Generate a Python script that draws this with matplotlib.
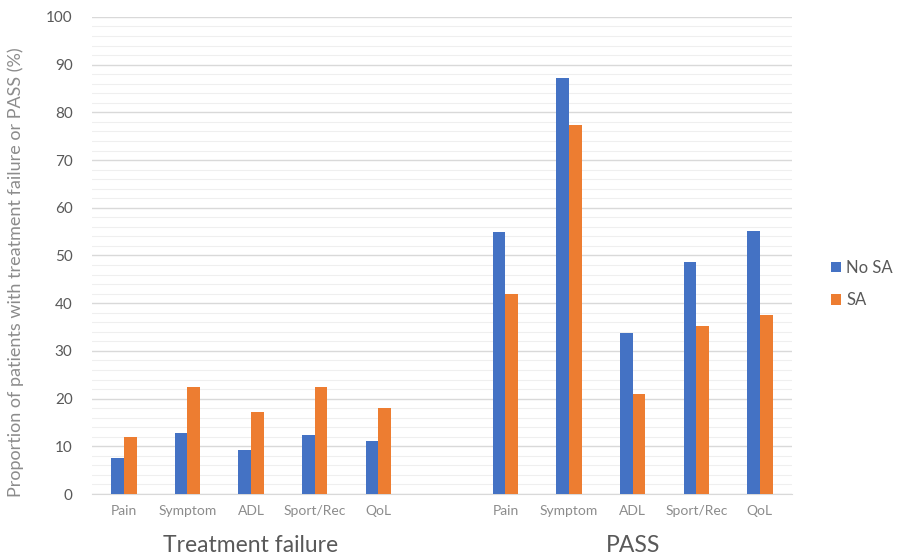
import matplotlib

matplotlib.use("Agg")

import matplotlib.pyplot as plt
import numpy as np

plt.rcParams["font.family"] = ["Lato", "DejaVu Sans"]

categories = ["Pain", "Symptom", "ADL", "Sport/Rec", "QoL"]
groups = ["Treatment failure", "PASS"]
series = ["No SA", "SA"]

failure_no_sa = [7.6, 12.7, 9.2, 12.4, 11.1]
failure_sa = [11.9, 22.5, 17.2, 22.5, 18.1]
pass_no_sa = [54.9, 87.3, 33.7, 48.7, 55.2]
pass_sa = [42.0, 77.4, 21.0, 35.2, 37.5]

BLUE = "#4472C4"
ORANGE = "#ED7D31"
TEXT = "#595959"

fig = plt.figure(figsize=(9.11, 5.56), dpi=100)
ax = fig.add_axes([0.101, 0.1115, 0.768, 0.858])

n = len(categories)
x_fail = np.arange(n)
x_pass = np.arange(n) + n + 1
x_all = np.concatenate([x_fail, x_pass])
w = 0.2

no_sa = failure_no_sa + pass_no_sa
sa = failure_sa + pass_sa
ax.bar(x_all - w / 2, no_sa, width=w, color=BLUE, label=series[0], zorder=3)
ax.bar(x_all + w / 2, sa, width=w, color=ORANGE, label=series[1], zorder=3)

ax.set_xlim(-0.5, 2 * n + 0.5)
ax.set_ylim(0, 100)
ax.set_yticks(np.arange(0, 101, 10))
ax.set_yticks(np.arange(0, 101, 2), minor=True)
ax.grid(axis="y", which="major", color="#d9d9d9", lw=1.0, zorder=0)
ax.grid(axis="y", which="minor", color="#efefef", lw=0.8, zorder=0)
ax.tick_params(axis="y", which="both", length=0, labelsize=11, labelcolor=TEXT, pad=14)
ax.set_xticks(x_all)
ax.set_xticklabels(categories + categories)
ax.tick_params(axis="x", length=0, labelsize=10, labelcolor="#8c8c8c", pad=8)

for s in ["top", "right", "left"]:
    ax.spines[s].set_visible(False)
ax.spines["bottom"].set_color("#d9d9d9")

ax.set_ylabel("Proportion of patients with treatment failure or PASS (%)",
              fontsize=13, color="#8c8c8c")
ax.yaxis.set_label_coords(-0.097, 0.465)

for xs, name in zip([x_fail, x_pass], groups):
    ax.text(xs.mean(), -0.108, name, transform=ax.get_xaxis_transform(),
            ha="center", va="center", fontsize=16.5, color=TEXT)

ax.legend(loc="center left", bbox_to_anchor=(1.035, 0.44), frameon=False,
          fontsize=12, labelcolor=TEXT, handlelength=0.6, handleheight=0.6,
          handletextpad=0.3, labelspacing=1.0)

fig.savefig("out.png", dpi=100)
